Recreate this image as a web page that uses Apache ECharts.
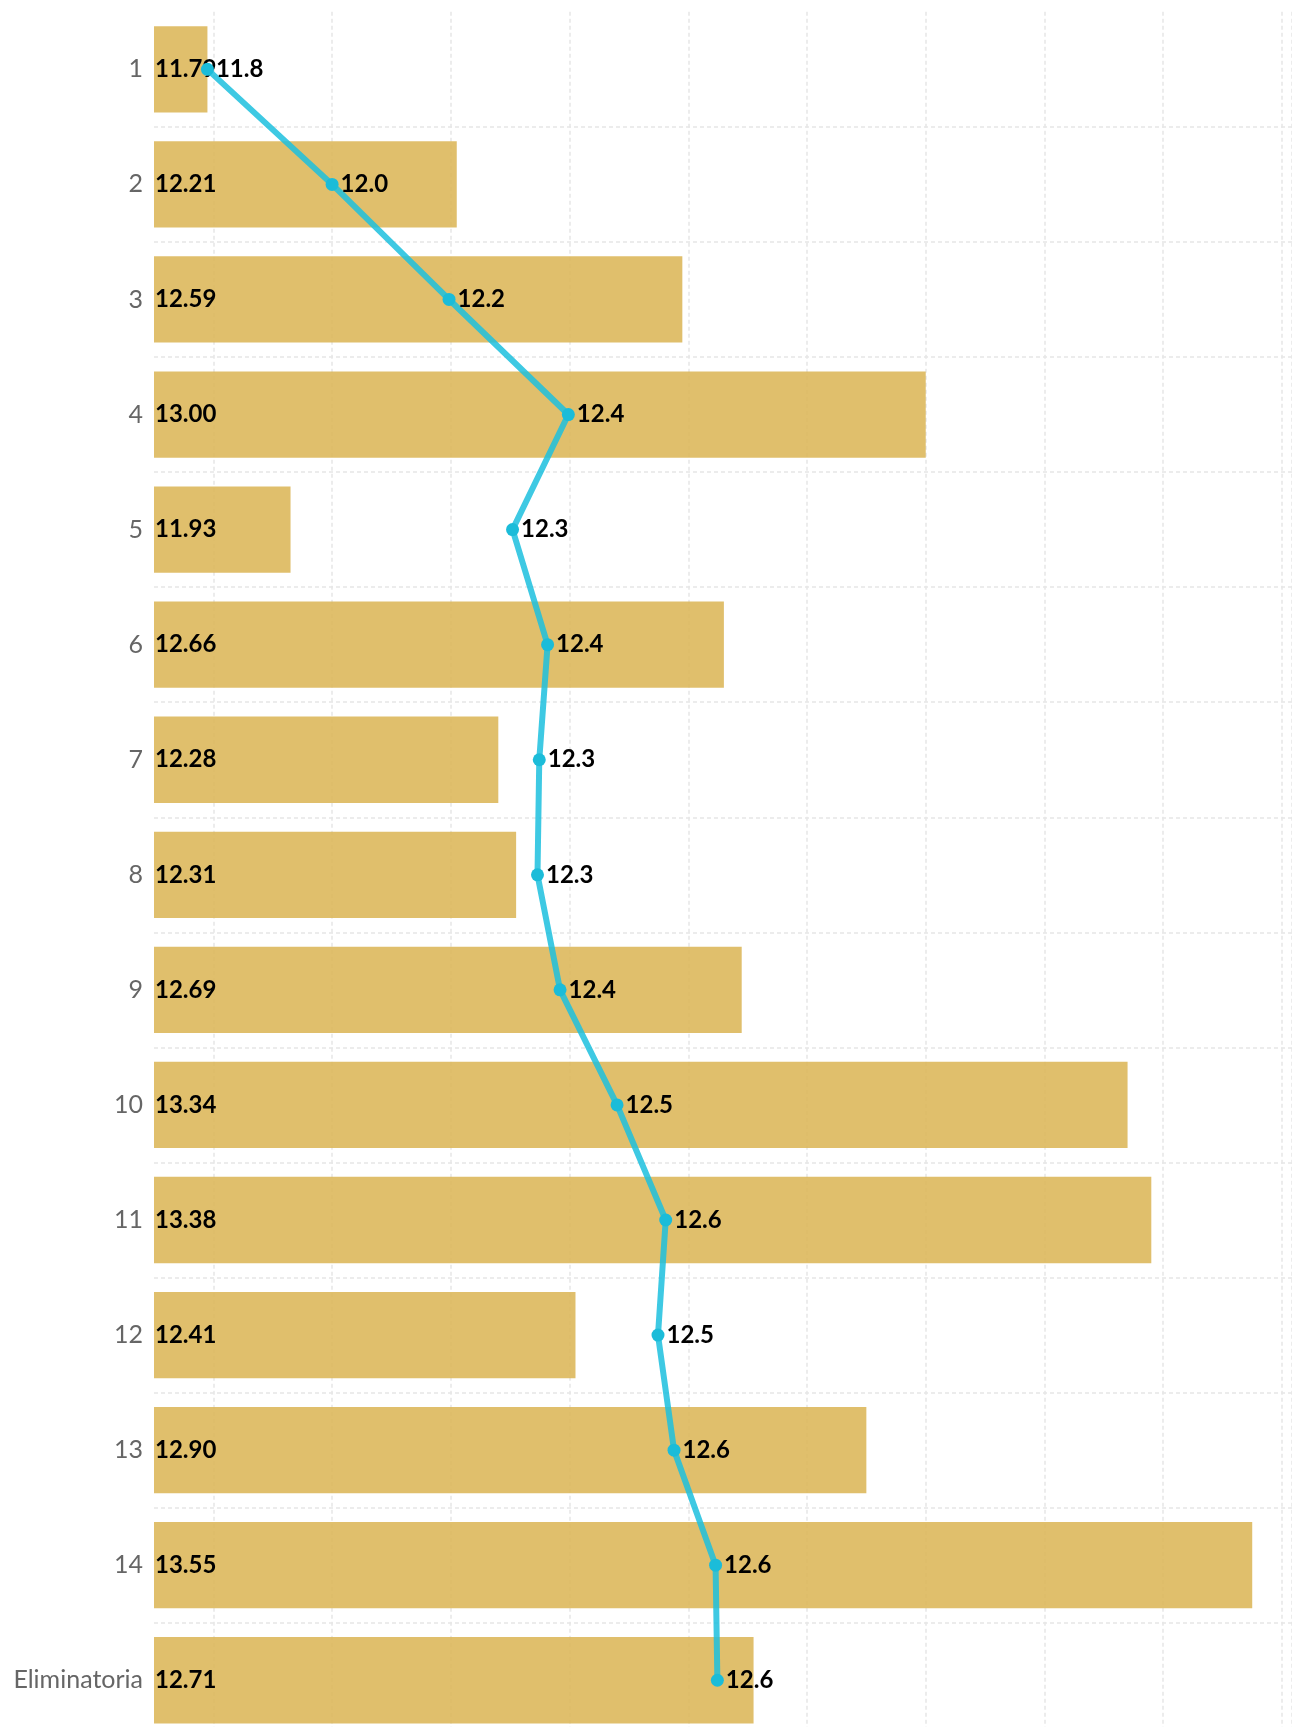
<!DOCTYPE html>
<html>
<head>
<meta charset="utf-8">
<script src="https://cdn.jsdelivr.net/npm/echarts@6/dist/echarts.min.js"></script>
<style>
html,body{margin:0;padding:0;background:#fff;width:1292px;height:1727px;overflow:hidden;}
#chart{width:1292px;height:1740px;}
</style>
</head>
<body>
<div id="chart"></div>
<script>
var categories = ['1','2','3','4','5','6','7','8','9','10','11','12','13','14','Eliminatoria'];
var barValues = [11.79,12.21,12.59,13.00,11.93,12.66,12.28,12.31,12.69,13.34,13.38,12.41,12.90,13.55,12.71];
var avgValues = [11.79,12.00,12.197,12.398,12.304,12.363,12.349,12.346,12.384,12.48,12.562,12.549,12.576,12.646,12.649];

var xMin = 11.7, xMax = 13.617;
var gridLeft = 154, gridTop = 11.8, gridHeight = 1726, chartWidth = 1292;
var pxPerUnit = (chartWidth - gridLeft) / (xMax - xMin);
var grid2Left = gridLeft + (11.8 - xMin) * pxPerUnit;

var chart = echarts.init(document.getElementById('chart'), null, {renderer:'canvas'});
var option = {
  animation: false,
  backgroundColor: '#fff',
  textStyle: { fontFamily: 'Lato' },
  grid: [
    { left: gridLeft, right: 0, top: gridTop, height: gridHeight },
    { left: grid2Left, right: 0, top: gridTop, height: gridHeight }
  ],
  xAxis: [
    { type:'value', gridIndex:0, min:xMin, max:xMax, show:true,
      axisLine:{show:false}, axisTick:{show:false}, axisLabel:{show:false}, splitLine:{show:false} },
    { type:'value', gridIndex:1, min:11.8, max:xMax, interval:0.2,
      axisLine:{show:false}, axisTick:{show:false}, axisLabel:{show:false},
      splitLine:{show:true, lineStyle:{color:'#e6e6e6', width:1.5, type:[4,3]}} }
  ],
  yAxis: [
    { type:'category', gridIndex:0, data:categories, inverse:true,
      axisLine:{show:false}, axisTick:{show:false},
      axisLabel:{color:'#666', fontSize:25, fontFamily:'Lato', margin:11},
      splitLine:{show:true, interval:function(i){return i!==0;}, lineStyle:{color:'#e6e6e6', width:1.5, type:[4,3]}} },
    { type:'category', gridIndex:1, data:categories, inverse:true, show:false }
  ],
  series: [
    { type:'bar', xAxisIndex:0, yAxisIndex:0, data:barValues, barWidth:'75%',
      itemStyle:{color:'rgba(219,180,84,0.86)'},
      label:{show:true, position:'insideLeft', distance:1, color:'#000', fontWeight:'bold', fontSize:24, fontFamily:'Lato',
        formatter:function(p){return p.value.toFixed(2);}},
      z:2 },
    { type:'line', xAxisIndex:0, yAxisIndex:0, data:avgValues,
      symbol:'circle', symbolSize:13,
      lineStyle:{color:'rgba(28,192,222,0.85)', width:6},
      itemStyle:{color:'#1bbcd9'},
      label:{show:true, position:'right', distance:2, color:'#000', fontWeight:'bold', fontSize:24, fontFamily:'Lato',
        formatter:function(p){return p.value.toFixed(1);}},
      z:3 }
  ]
};
chart.setOption(option);
</script>
</body>
</html>
